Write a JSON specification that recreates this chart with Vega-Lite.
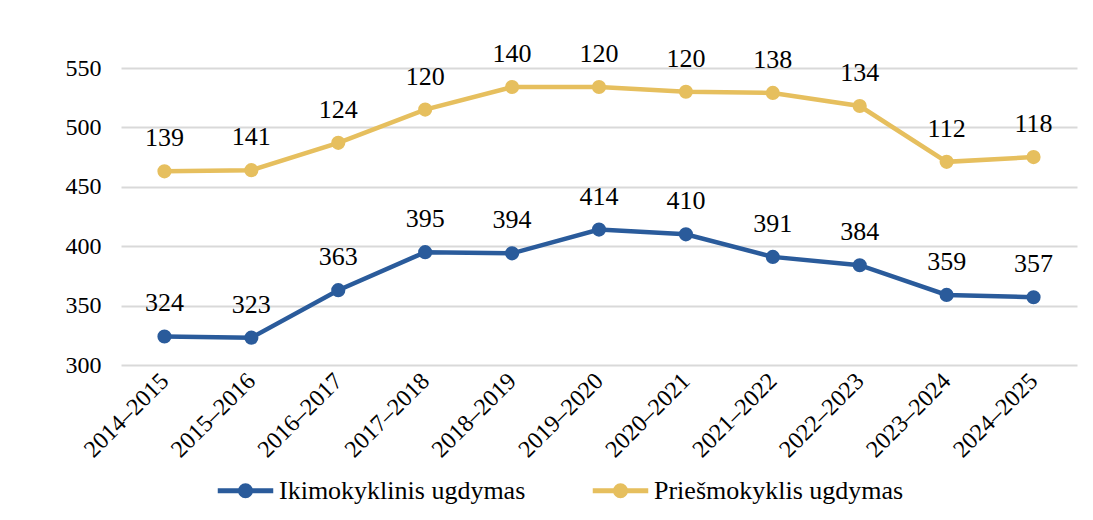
{
  "$schema": "https://vega.github.io/schema/vega-lite/v6.json",
  "autosize": {"type": "none"},
  "padding": {"left": 121, "top": 68, "right": 16, "bottom": 155},
  "width": 956,
  "height": 297,
  "background": "white",
  "config": {
    "font": "Liberation Serif",
    "view": {"stroke": null}
  },
  "data": {"values": [
    {"year": "2014–2015", "series": "Ikimokyklinis ugdymas", "value": 324},
    {"year": "2015–2016", "series": "Ikimokyklinis ugdymas", "value": 323},
    {"year": "2016–2017", "series": "Ikimokyklinis ugdymas", "value": 363},
    {"year": "2017–2018", "series": "Ikimokyklinis ugdymas", "value": 395},
    {"year": "2018–2019", "series": "Ikimokyklinis ugdymas", "value": 394},
    {"year": "2019–2020", "series": "Ikimokyklinis ugdymas", "value": 414},
    {"year": "2020–2021", "series": "Ikimokyklinis ugdymas", "value": 410},
    {"year": "2021–2022", "series": "Ikimokyklinis ugdymas", "value": 391},
    {"year": "2022–2023", "series": "Ikimokyklinis ugdymas", "value": 384},
    {"year": "2023–2024", "series": "Ikimokyklinis ugdymas", "value": 359},
    {"year": "2024–2025", "series": "Ikimokyklinis ugdymas", "value": 357},
    {"year": "2014–2015", "series": "Priešmokyklis ugdymas", "value": 139},
    {"year": "2015–2016", "series": "Priešmokyklis ugdymas", "value": 141},
    {"year": "2016–2017", "series": "Priešmokyklis ugdymas", "value": 124},
    {"year": "2017–2018", "series": "Priešmokyklis ugdymas", "value": 120},
    {"year": "2018–2019", "series": "Priešmokyklis ugdymas", "value": 140},
    {"year": "2019–2020", "series": "Priešmokyklis ugdymas", "value": 120},
    {"year": "2020–2021", "series": "Priešmokyklis ugdymas", "value": 120},
    {"year": "2021–2022", "series": "Priešmokyklis ugdymas", "value": 138},
    {"year": "2022–2023", "series": "Priešmokyklis ugdymas", "value": 134},
    {"year": "2023–2024", "series": "Priešmokyklis ugdymas", "value": 112},
    {"year": "2024–2025", "series": "Priešmokyklis ugdymas", "value": 118}
  ]},
  "transform": [
    {"stack": "value", "groupby": ["year"], "sort": [{"field": "series", "order": "ascending"}], "as": ["v0", "v1"]}
  ],
  "encoding": {
    "x": {
      "field": "year", "type": "nominal", "sort": null,
      "scale": {"type": "point", "padding": 0.5},
      "axis": {"title": null, "labelAngle": -45, "labelAlign": "right", "labelBaseline": "middle", "labelPadding": 12, "labelFontSize": 24, "labelFont": "Liberation Serif", "labelColor": "#000000", "domain": false, "ticks": false, "grid": false}
    },
    "y": {
      "field": "v1", "type": "quantitative",
      "scale": {"domain": [300, 550], "nice": false, "zero": false},
      "axis": {"title": null, "values": [300, 350, 400, 450, 500, 550], "labelFontSize": 24, "labelFont": "Liberation Serif", "labelColor": "#000000", "domain": false, "ticks": false, "grid": true, "gridColor": "#d9d9d9", "gridWidth": 2, "labelPadding": 20}
    },
    "color": {
      "field": "series", "type": "nominal",
      "scale": {"domain": ["Ikimokyklinis ugdymas", "Priešmokyklis ugdymas"], "range": ["#2A5B9B", "#E6BF5E"]},
      "legend": {
        "title": null, "orient": "none", "legendX": 94, "legendY": 392, "direction": "horizontal",
        "labelFontSize": 26, "labelFont": "Liberation Serif", "labelColor": "#000000", "labelLimit": 500,
        "symbolType": "M -1 0 L 1 0 M 0.18 0 A 0.18 0.18 0 1 1 -0.18 0 A 0.18 0.18 0 1 1 0.18 0 Z",
        "symbolSize": 3080, "symbolStrokeWidth": 5, "labelOffset": 3, "columnPadding": 56,
        "encode": {"symbols": {"update": {"fill": {"scale": "color", "field": "value"}, "stroke": {"scale": "color", "field": "value"}}}}
      }
    }
  },
  "layer": [
    {"mark": {"type": "line", "strokeWidth": 4.5}},
    {"mark": {"type": "point", "filled": true, "size": 200, "opacity": 1}},
    {
      "mark": {"type": "text", "dy": -33, "fontSize": 26, "font": "Liberation Serif", "color": "#000000"},
      "encoding": {"text": {"field": "value", "type": "quantitative"}, "color": {"value": "#000000"}}
    }
  ]
}
